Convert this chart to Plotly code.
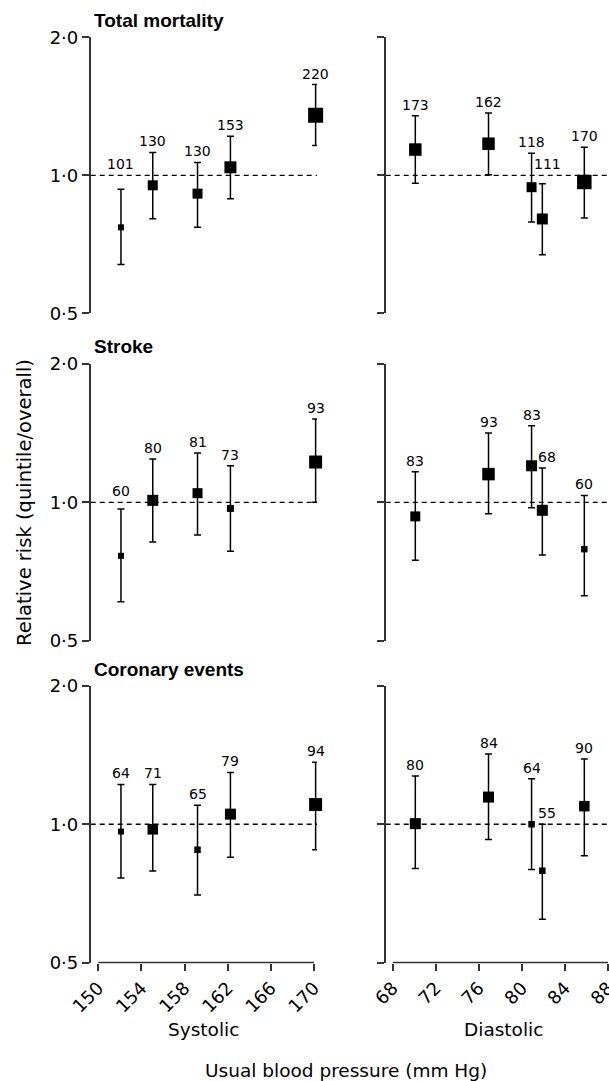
import math
import plotly.graph_objects as go

W, H = 609, 1081

# ---------------- data ----------------
panel_titles = ["Total mortality", "Stroke", "Coronary events"]
systolic_x = [152.1, 155.05, 159.2, 162.25, 170.15]
diastolic_x = [70.1, 76.9, 80.9, 81.9, 85.8]
systolic_ticks = [150, 154, 158, 162, 166, 170]
diastolic_ticks = [68, 72, 76, 80, 84, 88]
y_ticks = [0.5, 1.0, 2.0]
y_ticktext = ["0·5", "1·0", "2·0"]

# Total mortality
total_sys_n = [101, 130, 130, 153, 220]
total_sys_rr = [0.770, 0.951, 0.912, 1.041, 1.352]
total_sys_lo = [0.639, 0.804, 0.770, 0.889, 1.161]
total_sys_hi = [0.932, 1.122, 1.067, 1.216, 1.577]
total_sys_w = [6, 10, 10, 12, 15]
total_dia_n = [173, 162, 118, 111, 170]
total_dia_rr = [1.138, 1.172, 0.942, 0.803, 0.967]
total_dia_lo = [0.961, 1.003, 0.791, 0.671, 0.807]
total_dia_hi = [1.348, 1.368, 1.117, 0.958, 1.151]
total_dia_w = [12.5, 12.5, 10, 11, 14.5]

# Stroke
stroke_sys_n = [60, 80, 81, 73, 93]
stroke_sys_rr = [0.765, 1.010, 1.047, 0.970, 1.224]
stroke_sys_lo = [0.608, 0.820, 0.849, 0.783, 1.000]
stroke_sys_hi = [0.967, 1.242, 1.280, 1.201, 1.518]
stroke_sys_w = [6, 11, 10, 7, 13]
stroke_dia_n = [83, 93, 83, 68, 60]
stroke_dia_rr = [0.932, 1.152, 1.201, 0.961, 0.791]
stroke_dia_lo = [0.748, 0.945, 0.973, 0.768, 0.626]
stroke_dia_hi = [1.166, 1.415, 1.468, 1.188, 1.035]
stroke_dia_w = [10, 12.5, 11, 11, 6.5]

# Coronary events
coronary_sys_n = [64, 71, 65, 79, 94]
coronary_sys_rr = [0.964, 0.975, 0.880, 1.052, 1.104]
coronary_sys_lo = [0.764, 0.791, 0.701, 0.847, 0.880]
coronary_sys_hi = [1.221, 1.221, 1.100, 1.297, 1.364]
coronary_sys_w = [6, 10.5, 6.5, 11, 13]
coronary_dia_n = [80, 84, 64, 55, 90]
coronary_dia_rr = [1.003, 1.146, 1.000, 0.792, 1.095]
coronary_dia_lo = [0.801, 0.926, 0.797, 0.621, 0.854]
coronary_dia_hi = [1.273, 1.422, 1.257, 1.000, 1.387]
coronary_dia_w = [11, 11, 6.5, 6.5, 10.5]

table = [
    [(systolic_x, total_sys_n, total_sys_rr, total_sys_lo, total_sys_hi, total_sys_w),
     (diastolic_x, total_dia_n, total_dia_rr, total_dia_lo, total_dia_hi, total_dia_w)],
    [(systolic_x, stroke_sys_n, stroke_sys_rr, stroke_sys_lo, stroke_sys_hi, stroke_sys_w),
     (diastolic_x, stroke_dia_n, stroke_dia_rr, stroke_dia_lo, stroke_dia_hi, stroke_dia_w)],
    [(systolic_x, coronary_sys_n, coronary_sys_rr, coronary_sys_lo, coronary_sys_hi, coronary_sys_w),
     (diastolic_x, coronary_dia_n, coronary_dia_rr, coronary_dia_lo, coronary_dia_hi, coronary_dia_w)],
]

# ---------------- layout geometry (pixels) ----------------
row_px = [(37.3, 313.3), (364.0, 640.7), (686.0, 962.5)]
col_px = [(90.7, 317.0), (385.7, 609.0)]
# pixel position of first / last tick on each x axis
tick_px = [(98.3, 314.0), (392.7, 608.0)]
col_ticks = [systolic_ticks, diastolic_ticks]

def x_range(c):
    t0, t1 = col_ticks[c][0], col_ticks[c][-1]
    p0, p1 = tick_px[c]
    s = (p1 - p0) / (t1 - t0)
    return [t0 - (p0 - col_px[c][0]) / s, t0 + (col_px[c][1] - p0) / s]

FONT = "DejaVu Sans"
AXC = "#333333"
fig = go.Figure()
layout = dict(width=W, height=H, margin=dict(l=0, r=0, t=0, b=0, autoexpand=False),
              plot_bgcolor="white", paper_bgcolor="white", showlegend=False)
annotations = []
shapes = []

for r in range(3):
    for c in range(2):
        k = r * 2 + c + 1
        xa = "x" if k == 1 else f"x{k}"
        ya = "y" if k == 1 else f"y{k}"
        xkey = "xaxis" if k == 1 else f"xaxis{k}"
        ykey = "yaxis" if k == 1 else f"yaxis{k}"
        xr = x_range(c)
        bottom = r == 2
        layout[xkey] = dict(
            domain=[col_px[c][0] / W, col_px[c][1] / W], range=xr, anchor=ya,
            visible=bottom, showline=False, showgrid=False, zeroline=False, automargin=False,
            ticks="outside" if bottom else "", ticklen=7, tickwidth=1.5, tickcolor=AXC,
            tickvals=col_ticks[c], ticktext=[str(t) for t in col_ticks[c]],
            ticklabeloverflow="allow",
            tickangle=-45, tickfont=dict(family=FONT, size=18, color="black"),
        )
        layout[ykey] = dict(
            domain=[1 - row_px[r][1] / H, 1 - row_px[r][0] / H], anchor=xa,
            type="log", range=[math.log10(0.5), math.log10(2.0)], automargin=False,
            showline=True, linecolor=AXC, linewidth=1.6, showgrid=False, zeroline=False,
            ticks="outside", ticklen=7, tickwidth=1.5, tickcolor=AXC,
            tickvals=y_ticks, ticktext=y_ticktext, showticklabels=(c == 0),
            tickfont=dict(family=FONT, size=18, color="black"),
        )
        xs, ns, rr, lo, hi, wt = table[r][c]
        # reference line at relative risk 1.0
        fig.add_trace(go.Scatter(x=xr, y=[1.0, 1.0], mode="lines", xaxis=xa, yaxis=ya,
                                 line=dict(color="black", width=1.3, dash="5px,4px"),
                                 hoverinfo="skip"))
        fig.add_trace(go.Scatter(
            x=xs, y=rr, mode="markers", xaxis=xa, yaxis=ya, cliponaxis=False,
            marker=dict(symbol="square", size=wt, color="black", opacity=1,
                        line=dict(width=0, color="black")),
            error_y=dict(type="data", symmetric=False,
                         array=[h - v for h, v in zip(hi, rr)],
                         arrayminus=[v - l for v, l in zip(rr, lo)],
                         color="black", thickness=1.5, width=3.5),
        ))
        for i, (xv, n, h) in enumerate(zip(xs, ns, hi)):
            shift = 5 if i > 0 and xv - xs[i - 1] < 1.5 else 0
            annotations.append(dict(
                x=xv, y=math.log10(max(h, 1.0)), xref=xa, yref=ya, text=str(n),
                showarrow=False, yanchor="bottom", xanchor="center", yshift=1, xshift=shift,
                font=dict(family=FONT, size=14, color="black")))
        if bottom:
            shapes.append(dict(type="line", xref=xa, yref=f"{ya} domain",
                               x0=col_ticks[c][0], x1=col_ticks[c][-1], y0=0, y1=0,
                               line=dict(color=AXC, width=1.6)))
    annotations.append(dict(
        x=92 / W, y=1 - (row_px[r][0] - 17) / H, xref="paper", yref="paper",
        text=f"<b>{panel_titles[r]}</b>", showarrow=False, xanchor="left", yanchor="middle",
        font=dict(family="Liberation Sans", size=19, color="black")))

annotations.append(dict(x=24 / W, y=1 - 503 / H, xref="paper", yref="paper",
                        text="Relative risk (quintile/overall)", textangle=-90,
                        showarrow=False, xanchor="center", yanchor="middle",
                        font=dict(family=FONT, size=19.5, color="black")))
annotations.append(dict(x=203 / W, y=1 - 1029 / H, xref="paper", yref="paper",
                        text="Systolic", showarrow=False, xanchor="center", yanchor="middle",
                        font=dict(family=FONT, size=18.5, color="black")))
annotations.append(dict(x=503 / W, y=1 - 1029 / H, xref="paper", yref="paper",
                        text="Diastolic", showarrow=False, xanchor="center", yanchor="middle",
                        font=dict(family=FONT, size=18.5, color="black")))
annotations.append(dict(x=345.5 / W, y=1 - 1070 / H, xref="paper", yref="paper",
                        text="Usual blood pressure (mm Hg)", showarrow=False,
                        xanchor="center", yanchor="middle",
                        font=dict(family=FONT, size=18.5, color="black")))

layout["annotations"] = annotations
layout["shapes"] = shapes
fig.update_layout(**layout)
fig.write_html("out.html")
